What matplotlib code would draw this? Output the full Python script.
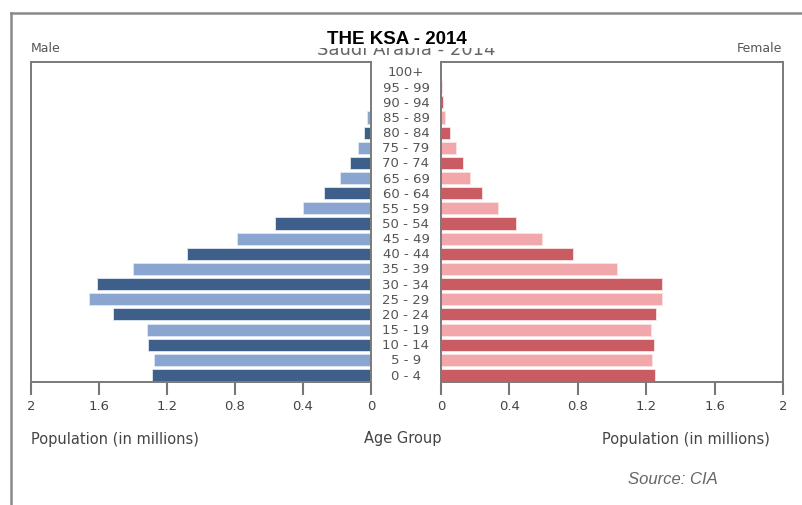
import numpy as np
import matplotlib.pyplot as plt
from matplotlib.lines import Line2D
from matplotlib.patches import Rectangle

age_groups = ["0 - 4", "5 - 9", "10 - 14", "15 - 19", "20 - 24", "25 - 29", "30 - 34",
              "35 - 39", "40 - 44", "45 - 49", "50 - 54", "55 - 59", "60 - 64", "65 - 69",
              "70 - 74", "75 - 79", "80 - 84", "85 - 89", "90 - 94", "95 - 99", "100+"]
male = [1.29, 1.275, 1.31, 1.318, 1.52, 1.66, 1.61, 1.40, 1.08, 0.79, 0.567,
        0.40, 0.275, 0.182, 0.124, 0.078, 0.043, 0.022, 0.008, 0.003, 0.001]
female = [1.25, 1.233, 1.243, 1.23, 1.26, 1.29, 1.29, 1.03, 0.77, 0.59, 0.44,
          0.336, 0.24, 0.17, 0.13, 0.088, 0.053, 0.025, 0.012, 0.005, 0.002]
ticks = [0, 0.4, 0.8, 1.2, 1.6, 2]
tick_labels = ["0", "0.4", "0.8", "1.2", "1.6", "2"]

male_cols = ["#3e5f8a", "#8aa6d0"]
female_cols = ["#c95c62", "#f2a7aa"]

fig = plt.figure(figsize=(8.03, 5.06), dpi=100)
fig.patch.set_facecolor("white")

y = np.arange(len(age_groups))
ax_m = fig.add_axes([31/803, 1-383/506, 340/803, 320/506])
ax_f = fig.add_axes([441/803, 1-383/506, 342/803, 320/506])

ax_m.barh(y, male, height=0.8, color=[male_cols[i % 2] for i in y],
          edgecolor="#dfe8f3", linewidth=0.6)
ax_f.barh(y, female, height=0.8, color=[female_cols[i % 2] for i in y],
          edgecolor="#fbe3e3", linewidth=0.6)

for ax in (ax_m, ax_f):
    ax.set_ylim(-0.46, 20.66)
    ax.set_yticks([])
    ax.set_xticks(ticks)
    ax.set_xticklabels(tick_labels)
    ax.tick_params(axis="x", direction="out", length=9, width=1.5, color="#777777",
                   labelsize=9.5, labelcolor="#444444", pad=3)
    for s in ax.spines.values():
        s.set_color("#7a7a7a")
        s.set_linewidth(1.4)
ax_m.set_xlim(2, 0)
ax_f.set_xlim(0, 2)

for i, lab in enumerate(age_groups):
    fig.text(406/803, ax_m.transData.transform((0, i))[1] / fig.bbox.height,
             lab, ha="center", va="center", fontsize=9.5, color="#555555")

# headings
fig.text(31/803, 1-49/506, "Male", fontsize=9, color="#555555", va="center")
fig.text(782/803, 1-49/506, "Female", fontsize=9, color="#555555", va="center", ha="right")
fig.text(406/803, 1-55/506, "Saudi Arabia - 2014", fontsize=13, color="#666666",
         ha="center", va="baseline", zorder=1)
# the pasted title hides the top of the old one
fig.add_artist(Rectangle((300/803, 1-49/506), 212/803, 27/506, facecolor="white",
                         edgecolor="none", transform=fig.transFigure, zorder=3))
fig.text(397/803, 1-39/506, "THE KSA - 2014", fontsize=13.5, fontweight="bold",
         family=["Liberation Sans", "DejaVu Sans"], ha="center", va="center", zorder=4)

fig.text(31/803, 1-440/506, "Population (in millions)", fontsize=10.5, color="#444444", va="center")
fig.text(403/803, 1-439/506, "Age Group", fontsize=10.5, color="#444444", va="center", ha="center")
fig.text(770/803, 1-440/506, "Population (in millions)", fontsize=10.5, color="#444444",
         va="center", ha="right")
fig.text(718/803, 1-480/506, "Source: CIA", fontsize=12, color="#666666", style="italic",
         family=["Liberation Sans", "DejaVu Sans"], va="center", ha="right")

# outer frame
fig.add_artist(Line2D([11/803, 1], [1-14/506, 1-14/506], color="#8a8a8a", linewidth=1.8,
                      transform=fig.transFigure))
fig.add_artist(Line2D([11/803, 11/803], [0, 1-14/506], color="#8a8a8a", linewidth=1.8,
                      transform=fig.transFigure))

fig.savefig("out.png", dpi=100)
